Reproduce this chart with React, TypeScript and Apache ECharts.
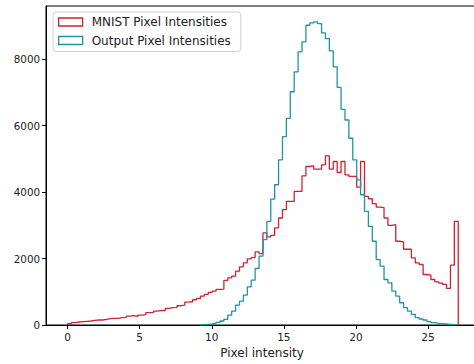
import React, { useEffect, useRef } from "react";
import * as echarts from "echarts";

// Histogram bins (shared bin width, index of first bin for each series)
const BIN_WIDTH = 0.271;
const MNIST_FIRST_BIN = 0;
const OUTPUT_FIRST_BIN = 34;

const MNIST_NAME = "MNIST Pixel Intensities";
const OUTPUT_NAME = "Output Pixel Intensities";

const mnistCounts = [
  40, 70, 90, 100, 110, 120, 140, 150, 150, 170,
  190, 200, 200, 220, 230, 270, 280, 260, 300, 310,
  370, 380, 420, 440, 430, 500, 520, 530, 580, 600,
  690, 700, 760, 800, 870, 920, 980, 1020, 1070, 1080,
  1340, 1420, 1470, 1620, 1750, 1870, 1990, 2030, 2200, 2150,
  2770, 2650, 2700, 2920, 3220, 3470, 3720, 3720, 4020, 4020,
  4490, 4770, 4790, 4690, 4690, 4820, 5090, 4690, 4920, 4590,
  4920, 4520, 4470, 4470, 4150, 4920, 3870, 3800, 3650, 3550,
  3530, 3220, 3000, 3020, 2520, 2500, 2280, 2280, 2020, 1870,
  1820, 1520, 1500, 1370, 1300, 1260, 1220, 1100, 1800, 3120,
];

const outputCounts = [
  10, 20, 30, 50, 80, 120,
  170, 300, 420, 600, 720, 900, 1150, 1350, 1700, 2070,
  2570, 3120, 3790, 4220, 4970, 5670, 6220, 7020, 7620, 8220,
  8520, 9020, 9090, 9120, 9070, 8790, 8620, 8250, 7770, 7150,
  6490, 6170, 5620, 4970, 4370, 3920, 3420, 2970, 2520, 1970,
  1770, 1370, 1270, 1020, 870, 670, 520, 420, 320, 220,
  180, 150, 100, 70, 50, 40, 30, 20, 10, 5,
];

const xTicks = [0, 5, 10, 15, 20, 25];
const yTicks = [0, 2000, 4000, 6000, 8000];

const RED = "#cf2233";
const TEAL = "#1d93aa";

function stepOutline(firstBin: number, counts: number[]): number[][] {
  const pts: number[][] = [[firstBin * BIN_WIDTH, 0]];
  counts.forEach((c, i) => pts.push([(firstBin + i) * BIN_WIDTH, c]));
  const end = (firstBin + counts.length) * BIN_WIDTH;
  pts.push([end, counts[counts.length - 1]]);
  pts.push([end, 0]);
  return pts;
}

export default function App() {
  const ref = useRef<HTMLDivElement>(null);
  useEffect(() => {
    if (!ref.current) return;
    const chart = echarts.init(ref.current, null, { renderer: "svg" });
    const font = "DejaVu Sans";
    chart.setOption({
      animation: false,
      textStyle: { fontFamily: font },
      grid: {
        left: 46,
        top: 6,
        right: 4,
        bottom: 38,
        show: true,
        borderColor: "#000",
        borderWidth: 1,
        backgroundColor: "transparent",
      },
      legend: {
        orient: "vertical",
        left: 53,
        top: 12,
        padding: [4, 10, 5, 5],
        itemGap: 6.5,
        itemWidth: 24,
        itemHeight: 8,
        backgroundColor: "rgba(255,255,255,0.8)",
        borderColor: "#d0d0d0",
        borderWidth: 1,
        borderRadius: 3,
        textStyle: { fontFamily: font, fontSize: 12, color: "#222", padding: [0, 0, 0, 4] },
        data: [
          { name: MNIST_NAME, icon: "rect", itemStyle: { color: "rgba(255,255,255,0)", borderColor: RED, borderWidth: 1.3 } },
          { name: OUTPUT_NAME, icon: "rect", itemStyle: { color: "rgba(255,255,255,0)", borderColor: TEAL, borderWidth: 1.3 } },
        ],
      },
      xAxis: {
        type: "value",
        min: -1.5,
        max: 28.47,
        name: "Pixel intensity",
        nameLocation: "middle",
        nameGap: 22,
        nameTextStyle: { fontFamily: font, fontSize: 12, color: "#222" },
        splitLine: { show: false },
        axisLine: { show: true, onZero: false, lineStyle: { color: "#000", width: 1 } },
        axisTick: { show: true, length: 4, customValues: xTicks, lineStyle: { color: "#000" } },
        axisLabel: { customValues: xTicks, fontFamily: font, fontSize: 10.5, color: "#222", margin: 6 },
      },
      yAxis: {
        type: "value",
        min: 0,
        max: 9600,
        splitLine: { show: false },
        axisLine: { show: true, onZero: false, lineStyle: { color: "#000", width: 1 } },
        axisTick: { show: true, length: 4, customValues: yTicks, lineStyle: { color: "#000" } },
        axisLabel: {
          customValues: yTicks,
          formatter: (v: number) => String(v),
          fontFamily: font,
          fontSize: 10.3,
          color: "#222",
          margin: 6,
        },
      },
      series: [
        {
          name: MNIST_NAME,
          type: "line",
          step: "end",
          symbol: "none",
          showSymbol: false,
          data: stepOutline(MNIST_FIRST_BIN, mnistCounts),
          lineStyle: { color: RED, width: 1.3 },
          itemStyle: { color: RED },
          z: 2,
        },
        {
          name: OUTPUT_NAME,
          type: "line",
          step: "end",
          symbol: "none",
          showSymbol: false,
          data: stepOutline(OUTPUT_FIRST_BIN, outputCounts),
          lineStyle: { color: TEAL, width: 1.3 },
          itemStyle: { color: TEAL },
          z: 3,
        },
      ],
    });
    return () => chart.dispose();
  }, []);
  return (
    <div style={{ position: "fixed", left: 0, top: 0, width: 474, height: 364, overflow: "hidden", background: "#fff" }}>
      <div ref={ref} style={{ width: 482, height: 364 }} />
    </div>
  );
}
